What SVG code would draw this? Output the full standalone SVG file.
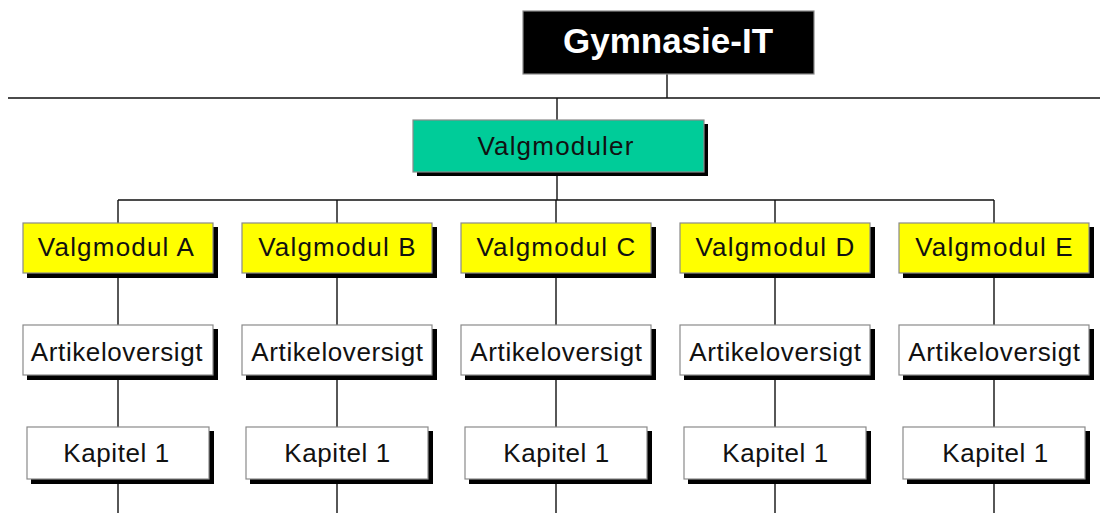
<svg xmlns="http://www.w3.org/2000/svg" width="1100" height="513" viewBox="0 0 1100 513">
<style>
.sh{fill:#000}
.box{stroke:#8a8a8a;stroke-width:1.2}
.y{fill:#ffff00}
.w{fill:#ffffff}
.t{font-family:"Liberation Sans",Arial,sans-serif;font-size:26px;fill:#111;text-anchor:middle;letter-spacing:1.2px}
.a{letter-spacing:0.6px}
.c{stroke:#111;stroke-width:1.4;fill:none}
</style>
<g id="connectors">
<path class="c" d="M8 98H1100M667 74V98M557 98V120M557 172V200M118 200H994M118 200V223M337 200V223M556 200V223M775 200V223M994 200V223"/>
<path class="c" d="M118 273V325M337 273V325M556 273V325M775 273V325M994 273V325"/>
<path class="c" d="M118 375V427M337 375V427M556 375V427M775 375V427M994 375V427"/>
<path class="c" d="M118 479V513M337 479V513M556 479V513M775 479V513M994 479V513"/>
</g>
<g id="gymnasie">
<rect x="523" y="11" width="291" height="63" fill="#000" class="box"/>
<text x="668" y="53" font-family="Liberation Sans,Arial,sans-serif" font-size="35" font-weight="bold" fill="#fff" text-anchor="middle">Gymnasie-IT</text>
</g>
<g id="valgmoduler">
<rect x="417" y="124" width="291" height="52" class="sh"/>
<rect x="413" y="120" width="291" height="52" fill="#00cc99" class="box"/>
<text x="556" y="155" class="t">Valgmoduler</text>
</g>
<g id="modA">
<rect x="27" y="227" width="191" height="51" class="sh"/>
<rect x="23" y="223" width="190" height="50" class="box y"/>
<text x="116.5" y="256" class="t">Valgmodul A</text>
</g>
<g id="modB">
<rect x="246" y="227" width="191" height="51" class="sh"/>
<rect x="242" y="223" width="190" height="50" class="box y"/>
<text x="337.5" y="256" class="t">Valgmodul B</text>
</g>
<g id="modC">
<rect x="465" y="227" width="191" height="51" class="sh"/>
<rect x="461" y="223" width="190" height="50" class="box y"/>
<text x="556.5" y="256" class="t">Valgmodul C</text>
</g>
<g id="modD">
<rect x="684" y="227" width="191" height="51" class="sh"/>
<rect x="680" y="223" width="190" height="50" class="box y"/>
<text x="775.5" y="256" class="t">Valgmodul D</text>
</g>
<g id="modE">
<rect x="903" y="227" width="191" height="51" class="sh"/>
<rect x="899" y="223" width="190" height="50" class="box y"/>
<text x="994.5" y="256" class="t">Valgmodul E</text>
</g>
<g id="artA">
<rect x="27" y="329" width="191" height="51" class="sh"/>
<rect x="23" y="325" width="190" height="50" class="box w"/>
<text x="117" y="361" class="t a">Artikeloversigt</text>
</g>
<g id="artB">
<rect x="246" y="329" width="191" height="51" class="sh"/>
<rect x="242" y="325" width="190" height="50" class="box w"/>
<text x="337.5" y="361" class="t a">Artikeloversigt</text>
</g>
<g id="artC">
<rect x="465" y="329" width="191" height="51" class="sh"/>
<rect x="461" y="325" width="190" height="50" class="box w"/>
<text x="556.5" y="361" class="t a">Artikeloversigt</text>
</g>
<g id="artD">
<rect x="684" y="329" width="191" height="51" class="sh"/>
<rect x="680" y="325" width="190" height="50" class="box w"/>
<text x="775.5" y="361" class="t a">Artikeloversigt</text>
</g>
<g id="artE">
<rect x="903" y="329" width="191" height="51" class="sh"/>
<rect x="899" y="325" width="190" height="50" class="box w"/>
<text x="994.5" y="361" class="t a">Artikeloversigt</text>
</g>
<g id="kapA">
<rect x="31" y="431" width="183" height="53" class="sh"/>
<rect x="27" y="427" width="182" height="52" class="box w"/>
<text x="116.5" y="462" class="t a">Kapitel 1</text>
</g>
<g id="kapB">
<rect x="250" y="431" width="183" height="53" class="sh"/>
<rect x="246" y="427" width="182" height="52" class="box w"/>
<text x="337.5" y="462" class="t a">Kapitel 1</text>
</g>
<g id="kapC">
<rect x="469" y="431" width="183" height="53" class="sh"/>
<rect x="465" y="427" width="182" height="52" class="box w"/>
<text x="556.5" y="462" class="t a">Kapitel 1</text>
</g>
<g id="kapD">
<rect x="688" y="431" width="183" height="53" class="sh"/>
<rect x="684" y="427" width="182" height="52" class="box w"/>
<text x="775.5" y="462" class="t a">Kapitel 1</text>
</g>
<g id="kapE">
<rect x="907" y="431" width="183" height="53" class="sh"/>
<rect x="903" y="427" width="182" height="52" class="box w"/>
<text x="995.5" y="462" class="t a">Kapitel 1</text>
</g>
</svg>
